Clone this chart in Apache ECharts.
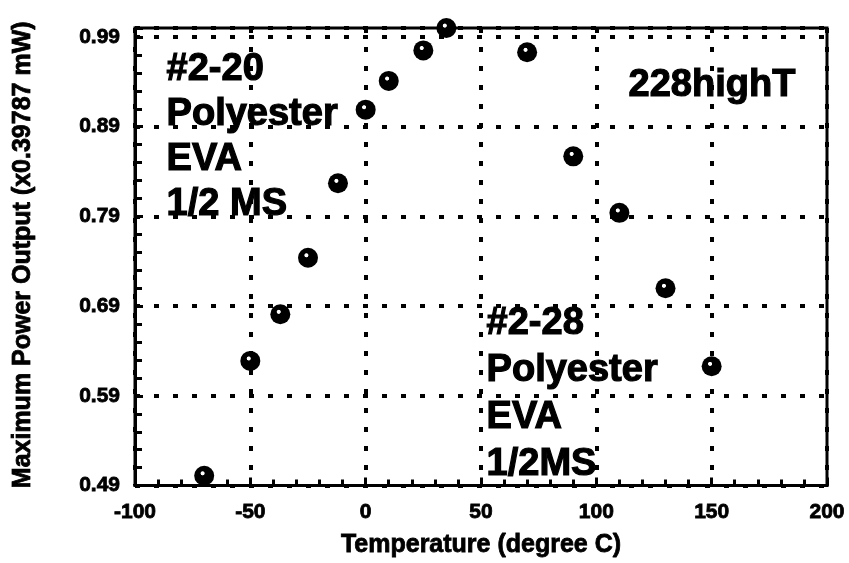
<!DOCTYPE html>
<html><head><meta charset="utf-8">
<script src="https://cdn.jsdelivr.net/npm/echarts@6/dist/echarts.min.js"></script>
<style>html,body{margin:0;padding:0;background:#fff}#c{width:849px;height:563px}</style>
</head><body><div id="c"></div>
<script>
const temperature = [-70, -50, -37, -25, -12, 0, 10, 25, 35, 70, 90, 110, 130, 150];
const power = [0.501, 0.629, 0.681, 0.744, 0.827, 0.909, 0.941, 0.975, 1.0, 0.973, 0.857, 0.794, 0.710, 0.623];
const xTicks = [-100, -50, 0, 50, 100, 150, 200];
const yTicks = [0.49, 0.59, 0.69, 0.79, 0.89, 0.99];
const leftNote = ['#2-20', 'Polyester', 'EVA', '1/2 MS'];
const rightNote = ['#2-28', 'Polyester', 'EVA', '1/2MS'];
const tagNote = '228highT';
const xTitle = 'Temperature (degree C)';
const yTitle = 'Maximum Power Output (x0.39787 mW)';

const FONT = '"Liberation Sans", Arial, sans-serif';
const chart = echarts.init(document.getElementById('c'), null, {renderer: 'canvas'});
const dotted = {color: '#000', width: 4, type: [5, 14]};
const labelStyle = {color: '#000', fontFamily: FONT, fontWeight: 'bold', fontSize: 20, textBorderColor: '#000', textBorderWidth: 0.8};
const noteStyle = (txt, lh) => ({text: txt, fill: '#000', fontFamily: FONT, fontWeight: 'bold', fontSize: 38, lineHeight: lh, stroke: '#000', lineWidth: 1.2});

chart.setOption({
  animation: false,
  backgroundColor: '#fff',
  grid: {left: 135, right: 22, top: 28, bottom: 76, show: true, borderColor: '#000', borderWidth: 3, backgroundColor: 'transparent'},
  xAxis: {
    type: 'value', min: xTicks[0], max: xTicks[xTicks.length - 1], interval: 50,
    name: xTitle, nameLocation: 'middle', nameGap: 47,
    nameTextStyle: Object.assign({}, labelStyle, {fontSize: 25}),
    axisLine: {show: true, onZero: false, lineStyle: {color: '#000', width: 3}},
    axisTick: {show: true, inside: true, length: 8, lineStyle: {color: '#000', width: 3}},
    minorTick: {show: true, splitNumber: 5, length: 6, lineStyle: {color: '#000', width: 3}},
    axisLabel: Object.assign({}, labelStyle, {margin: 16, fontSize: 21, formatter: v => String(Math.round(v))}),
    splitLine: {show: true, lineStyle: dotted}
  },
  yAxis: {
    type: 'value', min: yTicks[0], max: 1.0, interval: 0.1,
    name: yTitle, nameLocation: 'middle', nameGap: 99,
    nameTextStyle: Object.assign({}, labelStyle, {fontSize: 25, padding: [0, 0, 0, 4]}),
    axisLine: {show: true, onZero: false, lineStyle: {color: '#000', width: 3}},
    axisTick: {show: true, inside: true, length: 8, lineStyle: {color: '#000', width: 3}},
    minorTick: {show: true, splitNumber: 5, length: 7, lineStyle: {color: '#000', width: 3}},
    axisLabel: Object.assign({}, labelStyle, {margin: 15, fontSize: 21, showMaxLabel: false, formatter: v => v.toFixed(2)}),
    splitLine: {show: true, lineStyle: dotted}
  },
  graphic: [
    {type: 'text', left: 166, top: 47, z: 10, style: noteStyle(leftNote.join('\n'), 45)},
    {type: 'text', left: 628, top: 63, z: 10, style: noteStyle(tagNote, 45)},
    {type: 'text', left: 486, top: 300, z: 10, style: noteStyle(rightNote.join('\n'), 47)}
  ],
  series: [{
    type: 'scatter', clip: false, symbol: 'circle', symbolSize: 20, z: 5,
    data: temperature.map((t, i) => [t, power[i]]),
    itemStyle: {
      opacity: 1,
      color: {type: 'radial', x: 0.42, y: 0.38, r: 0.5, colorStops: [
        {offset: 0, color: '#fff'}, {offset: 0.16, color: '#fff'}, {offset: 0.24, color: '#000'}, {offset: 1, color: '#000'}]}
    }
  }]
});
</script></body></html>
